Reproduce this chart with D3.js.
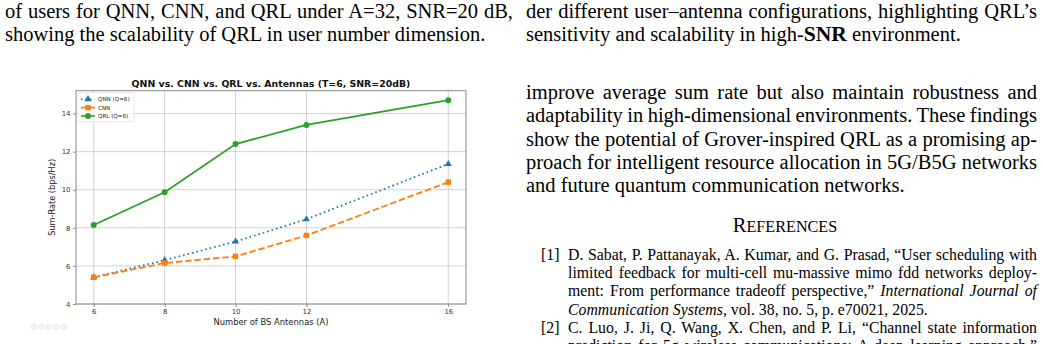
<!DOCTYPE html>
<html><head><meta charset="utf-8">
<script src="https://cdn.jsdelivr.net/npm/d3@7"></script>
<style>
html,body{margin:0;padding:0;background:#fff;}
svg{display:block;}
</style></head>
<body>
<svg id="page" width="1043" height="344"></svg>
<script>
// ---------------- chart data ----------------
const antennas = [6, 8, 10, 12, 16];
const qnnValues = [5.4, 6.3, 7.28, 8.45, 11.35];
const cnnValues = [5.4, 6.15, 6.5, 7.6, 10.4];
const qrlValues = [8.15, 9.87, 12.4, 13.4, 14.7];
const xTickValues = [6, 8, 10, 12, 16];
const yTickValues = [4, 6, 8, 10, 12, 14];
const seriesNames = ["QNN (Q=8)", "CNN", "QRL (Q=8)"];
const chartTitle = "QNN vs. CNN vs. QRL vs. Antennas (T=6, SNR=20dB)";
const xLabel = "Number of BS Antennas (A)";
const yLabel = "Sum-Rate (bps/Hz)";

// ---------------- page text ----------------
const leftCaption = [
  {t: "of users for QNN, CNN, and QRL under A=32, SNR=20 dB,", j: true},
  {t: "showing the scalability of QRL in user number dimension.", j: false}
];
const rightCaption1 = "der different user\u2013antenna configurations, highlighting QRL\u2019s";
const bodyLines = [
  {t: "improve average sum rate but also maintain robustness and", j: true},
  {t: "adaptability in high-dimensional environments. These findings", j: true},
  {t: "show the potential of Grover-inspired QRL as a promising ap-", j: true},
  {t: "proach for intelligent resource allocation in 5G/B5G networks", j: true},
  {t: "and future quantum communication networks.", j: false}
];
const refLines = [
  {n: "[1]", parts: [["D. Sabat, P. Pattanayak, A. Kumar, and G. Prasad, \u201cUser scheduling with", false]], j: true},
  {parts: [["limited feedback for multi-cell mu-massive mimo fdd networks deploy-", false]], j: true},
  {parts: [["ment: From performance tradeoff perspective,\u201d ", false], ["International Journal of", true]], j: true},
  {parts: [["Communication Systems", true], [", vol. 38, no. 5, p. e70021, 2025.", false]], j: false},
  {n: "[2]", parts: [["C. Luo, J. Ji, Q. Wang, X. Chen, and P. Li, \u201cChannel state information", false]], j: true},
  {parts: [["prediction for 5g wireless communications: A deep learning approach,\u201d", false]], j: true}
];

const svg = d3.select("#page");
const serif = "'Liberation Serif','Times New Roman',serif";
const sans = "'DejaVu Sans',sans-serif";

function justify(sel, width) {
  const node = sel.node();
  const len = node.getComputedTextLength();
  const txt = node.textContent;
  const spaces = (txt.match(/ /g) || []).length;
  if (spaces > 0) sel.attr("word-spacing", (width - len) / spaces);
}

// left caption
const capFS = 20.5;
leftCaption.forEach((l, i) => {
  const t = svg.append("text").attr("x", 5).attr("y", 18 + i * 23.3)
    .attr("font-family", serif).attr("font-size", capFS).attr("fill", "#000").text(l.t);
  if (l.j) justify(t, 508);
});
// right caption
{
  const t = svg.append("text").attr("x", 526).attr("y", 18)
    .attr("font-family", serif).attr("font-size", capFS).text(rightCaption1);
  justify(t, 511);
  const t2 = svg.append("text").attr("x", 526).attr("y", 41.3)
    .attr("font-family", serif).attr("font-size", capFS);
  t2.append("tspan").text("sensitivity and scalability in high-");
  t2.append("tspan").attr("font-weight", "bold").attr("font-size", capFS * 1.05).text("SNR");
  t2.append("tspan").text(" environment.");
}
// body
bodyLines.forEach((l, i) => {
  const t = svg.append("text").attr("x", 526).attr("y", 99 + i * 23.3)
    .attr("font-family", serif).attr("font-size", capFS).text(l.t);
  if (l.j) justify(t, 511);
});
// references heading (small caps)
{
  const t = svg.append("text").attr("x", 785).attr("y", 232).attr("text-anchor", "middle")
    .attr("font-family", serif).attr("font-size", 20.5);
  t.append("tspan").text("R");
  t.append("tspan").attr("font-size", 16.2).text("EFERENCES");
}
const refFS = 15.8;
refLines.forEach((l, i) => {
  const y = 260 + i * 18.2;
  if (l.n) svg.append("text").attr("x", 541).attr("y", y).attr("font-family", serif)
    .attr("font-size", refFS).text(l.n);
  const t = svg.append("text").attr("x", 568).attr("y", y).attr("font-family", serif).attr("font-size", refFS);
  l.parts.forEach(p => t.append("tspan").attr("font-style", p[1] ? "italic" : null).text(p[0]));
  if (l.j) justify(t, 469);
});

// ---------------- chart ----------------
const L = 76, R = 466, T = 90.7, B = 304;
const x = d3.scaleLinear().domain([5.5, 16.5]).range([L, R]);
const y = d3.scaleLinear().domain([4, 15.2]).range([B, T]);
const g = svg.append("g");

// grid
g.append("g").selectAll("line").data(xTickValues).join("line")
  .attr("x1", d => x(d)).attr("x2", d => x(d)).attr("y1", T).attr("y2", B)
  .attr("stroke", "#b0b0b0").attr("stroke-opacity", 0.55).attr("stroke-width", 1);
g.append("g").selectAll("line").data(yTickValues).join("line")
  .attr("x1", L).attr("x2", R).attr("y1", d => y(d)).attr("y2", d => y(d))
  .attr("stroke", "#b0b0b0").attr("stroke-opacity", 0.55).attr("stroke-width", 1);

// axes
const xAxis = d3.axisBottom(x).tickValues(xTickValues).tickSize(3).tickPadding(2.5).tickFormat(d3.format("d"));
const yAxis = d3.axisLeft(y).tickValues(yTickValues).tickSize(3).tickPadding(2.5).tickFormat(d3.format("d"));
const gx = g.append("g").attr("transform", `translate(0,${B})`).call(xAxis);
const gy = g.append("g").attr("transform", `translate(${L},0)`).call(yAxis);
[gx, gy].forEach(a => {
  a.select(".domain").remove();
  a.selectAll(".tick line").attr("stroke", "#555").attr("stroke-width", 0.7);
  a.selectAll(".tick text").attr("font-family", sans).attr("font-size", 6.9).attr("fill", "#333");
});
// frame
g.append("rect").attr("x", L).attr("y", T).attr("width", R - L).attr("height", B - T)
  .attr("fill", "none").attr("stroke", "#888").attr("stroke-width", 1);

const series = [
  {name: seriesNames[0], vals: qnnValues, color: "#1f77b4", dash: "1.6,3", marker: "triangle"},
  {name: seriesNames[1], vals: cnnValues, color: "#ff7f0e", dash: "6.5,2.8", marker: "square"},
  {name: seriesNames[2], vals: qrlValues, color: "#2ca02c", dash: null, marker: "circle"}
];
const line = d3.line().x(d => x(d[0])).y(d => y(d[1]));
const sym = {triangle: d3.symbolTriangle, square: d3.symbolSquare, circle: d3.symbolCircle};
const symSize = {triangle: 22, square: 30, circle: 28};
series.forEach(s => {
  const pts = antennas.map((a, i) => [a, s.vals[i]]);
  g.append("path").attr("d", line(pts)).attr("fill", "none").attr("stroke", s.color)
    .attr("stroke-width", 1.8).attr("stroke-dasharray", s.dash);
  g.append("g").selectAll("path").data(pts).join("path")
    .attr("transform", d => `translate(${x(d[0])},${y(d[1])})`)
    .attr("d", d3.symbol().type(sym[s.marker]).size(symSize[s.marker])).attr("fill", s.color);
});

// title & labels
svg.append("text").attr("x", (L + R) / 2).attr("y", 86.5).attr("text-anchor", "middle")
  .attr("font-family", sans).attr("font-weight", "bold").attr("font-size", 9.4).attr("fill", "#111").text(chartTitle);
svg.append("text").attr("x", (L + R) / 2).attr("y", 324.5).attr("text-anchor", "middle")
  .attr("font-family", sans).attr("font-size", 8.4).attr("fill", "#222").text(xLabel);
svg.append("text").attr("transform", `translate(54.5,${(T + B) / 2}) rotate(-90)`).attr("text-anchor", "middle")
  .attr("font-family", sans).attr("font-size", 8.2).attr("fill", "#222").text(yLabel);

// legend
const lg = svg.append("g").attr("transform", `translate(${L + 2},${T + 2})`);
lg.append("rect").attr("width", 56).attr("height", 29).attr("rx", 2)
  .attr("fill", "#fff").attr("fill-opacity", 0.85).attr("stroke", "#ddd").attr("stroke-width", 0.7);
series.forEach((s, i) => {
  const yy = 6.5 + i * 8.4;
  lg.append("line").attr("x1", 3).attr("x2", 17).attr("y1", yy).attr("y2", yy)
    .attr("stroke", s.color).attr("stroke-width", 1.6).attr("stroke-dasharray", s.dash);
  lg.append("path").attr("transform", `translate(10,${yy})`)
    .attr("d", d3.symbol().type(sym[s.marker]).size(symSize[s.marker])).attr("fill", s.color);
  lg.append("text").attr("x", 20).attr("y", yy + 2).attr("font-family", sans)
    .attr("font-size", 5.6).attr("fill", "#222").text(s.name);
});

// faint toolbar artifacts
svg.append("g").selectAll("circle").data([0, 1, 2, 3, 4]).join("circle")
  .attr("cx", d => 34 + d * 7.5).attr("cy", 327).attr("r", 2.8)
  .attr("fill", "#f2f2f2").attr("stroke", "#e6e6e6").attr("stroke-width", 0.8);
</script>
</body></html>
